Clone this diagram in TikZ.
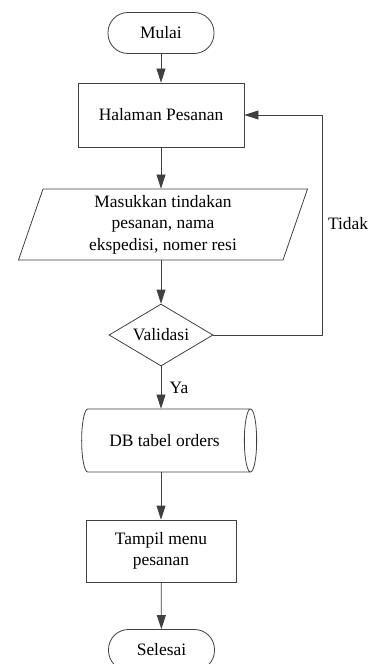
\documentclass[tikz,border=0pt]{standalone}
\usepackage{fontspec}
\setmainfont{Liberation Serif}
\usetikzlibrary{shapes.geometric,arrows.meta}

\begin{document}
\begin{tikzpicture}[x=1bp, y=-1bp,
    font=\fontsize{17.5}{21.5}\selectfont,
    terminal/.style={rectangle, draw=black!75, line width=0.8bp, rounded corners=20bp, minimum width=106bp, minimum height=41bp},
    process/.style={rectangle, draw=black!75, line width=0.8bp, align=center},
    io/.style={trapezium, trapezium left angle=68, trapezium right angle=112, trapezium stretches body=true, draw=black!75, line width=0.8bp, align=center, minimum width=289bp, minimum height=71bp, inner sep=1bp},
    decision/.style={diamond, draw=black!75, line width=0.8bp, minimum width=104bp, minimum height=62bp, inner sep=0bp, aspect=1.68},
    database/.style={cylinder, draw=black!75, line width=0.8bp, aspect=0.65, minimum height=175bp, minimum width=63bp},
    arrow/.style={-{Triangle[length=14bp, width=9bp]}, draw=black!75, line width=0.8bp}
]
    \useasboundingbox (0,0) rectangle (368,664);

    % Flow nodes
    \node[terminal] (mulai) at (161,33) {Mulai};
    \node[process, minimum width=166bp, minimum height=64bp] (halaman) at (161,115) {Halaman Pesanan};
    \node[io] (input) at (163,224.5) {Masukkan tindakan\\pesanan, nama\\ekspedisi, nomer resi};
    \node[decision] (validasi) at (161,335) {Validasi};
    \node[database] (db) at (164.5,440.5) {DB tabel orders};
    \node[process, minimum width=150bp, minimum height=62bp] (tampil) at (161,551) {Tampil menu\\pesanan};
    \node[terminal] (selesai) at (161.5,650) {Selesai};

    % Arrows
    \draw[arrow] (mulai) -- (halaman);
    \draw[arrow] (halaman.south) -- (halaman.south |- input.north);
    \draw[arrow] (validasi.north |- input.south) -- (validasi.north);
    \draw[arrow] (validasi.south) -- node[right=5bp] (ya) {Ya} (validasi.south |- db.north);
    \draw[arrow] (validasi.south |- db.south) -- (tampil.north);
    \draw[arrow] (tampil) -- (selesai);

    % Loop back
    \coordinate (loop) at (322,335);
    \draw[arrow] (validasi.east) -- (loop) |- (halaman.east);
    \node[anchor=west] (tidak) at (324.5,224) {Tidak};
\end{tikzpicture}
\end{document}
